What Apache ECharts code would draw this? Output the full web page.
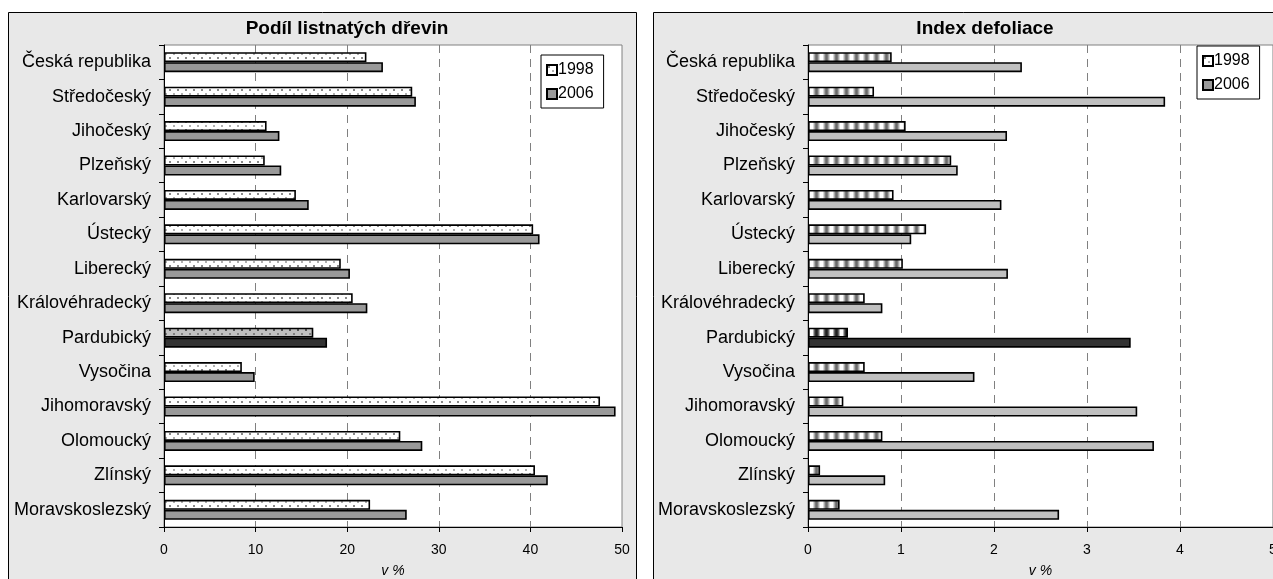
<!DOCTYPE html>
<html>
<head>
<meta charset="utf-8">
<script src="https://cdn.jsdelivr.net/npm/echarts@6/dist/echarts.min.js"></script>
<style>
html,body{margin:0;padding:0;background:#fff;}
#chart{width:1273px;height:579px;}
</style>
</head>
<body>
<div id="chart"></div>
<script>
const categories = ['Česká republika','Středočeský','Jihočeský','Plzeňský','Karlovarský','Ústecký','Liberecký','Královéhradecký','Pardubický','Vysočina','Jihomoravský','Olomoucký','Zlínský','Moravskoslezský'];
const seriesNames = ['1998','2006'];
const podil1998 = [22.1, 27.1, 11.2, 11.0, 14.4, 40.3, 19.3, 20.6, 16.3, 8.5, 47.6, 25.8, 40.5, 22.5];
const podil2006 = [23.9, 27.5, 12.6, 12.8, 15.8, 41.0, 20.3, 22.2, 17.8, 9.9, 49.3, 28.2, 41.9, 26.5];
const defol1998 = [0.90, 0.71, 1.05, 1.54, 0.92, 1.27, 1.02, 0.61, 0.43, 0.61, 0.38, 0.80, 0.13, 0.34];
const defol2006 = [2.30, 3.84, 2.14, 1.61, 2.08, 1.11, 2.15, 0.80, 3.47, 1.79, 3.54, 3.72, 0.83, 2.70];
const highlighted = 'Pardubický';

function makePattern(w, h, draw) {
  const c = document.createElement('canvas');
  c.width = w; c.height = h;
  const ctx = c.getContext('2d');
  draw(ctx);
  return { image: c, repeat: 'repeat' };
}
function dots(bg, d1, d2) {
  return makePattern(8, 8, ctx => {
    ctx.fillStyle = bg; ctx.fillRect(0, 0, 8, 8);
    ctx.fillStyle = d1; ctx.fillRect(1, 1, 2, 2);
    ctx.fillStyle = d2; ctx.fillRect(5, 5, 2, 2);
  });
}
function stripes(cols) {
  return makePattern(cols.length, 4, ctx => {
    cols.forEach((c, i) => { ctx.fillStyle = c; ctx.fillRect(i, 0, 1, 4); });
  });
}
const dotNormal = dots('#ffffff', '#8a8a8a', '#b0b0b0');
const dotHi = dots('#c0c0c0', '#555555', '#808080');
const stripeNormal = stripes(['#ffffff','#ffffff','#ffffff','#d8d8d8','#a8a8a8','#7a7a7a','#6a6a6a','#7a7a7a','#a8a8a8','#d8d8d8']);
const stripeHi = stripes(['#ffffff','#ffffff','#ffffff','#b0b0b0','#606060','#303030','#202020','#303030','#606060','#b0b0b0']);

const FONT = '"Liberation Sans", Arial, sans-serif';
const hiIdx = categories.indexOf(highlighted);

function mk(values, hiColor) {
  return values.map((v, i) => i === hiIdx ? { value: v, itemStyle: { color: hiColor } } : v);
}

const bs = { borderColor: '#000', borderWidth: 1.6 };

const chart = echarts.init(document.getElementById('chart'), null, { renderer: 'canvas' });

function yAx(gi) {
  return {
    type: 'category', gridIndex: gi, data: categories, inverse: true,
    axisLine: { show: true, lineStyle: { color: '#000', width: 1 } },
    axisTick: { show: true, length: 5, lineStyle: { color: '#000' } },
    axisLabel: { color: '#000', fontSize: 18, fontFamily: FONT, margin: 13, padding: [4, 0, 0, 0] },
    splitLine: { show: false }
  };
}
function xAx(gi, max, interval) {
  return {
    type: 'value', gridIndex: gi, min: 0, max: max, interval: interval,
    name: 'v %', nameLocation: 'middle', nameGap: 37,
    nameTextStyle: { color: '#000', fontSize: 14, fontStyle: 'italic', fontFamily: FONT },
    axisLine: { show: true, lineStyle: { color: '#000', width: 1 } },
    axisTick: { show: true, length: 5, lineStyle: { color: '#000' } },
    axisLabel: { color: '#000', fontSize: 14, fontFamily: FONT, margin: 16 },
    splitLine: { show: true, showMinLine: false, showMaxLine: false,
      lineStyle: { color: '#808080', type: [8, 6], width: 1 } }
  };
}

const legendBase = {
  orient: 'vertical', backgroundColor: '#fff', borderColor: '#000', borderWidth: 1,
  padding: [7, 10, 6, 5], itemWidth: 10, itemHeight: 10, itemGap: 8, icon: 'rect',
  textStyle: { fontSize: 16, color: '#000', fontFamily: FONT, padding: [0, 0, 0, -4] }
};

chart.setOption({
  animation: false,
  graphic: {
    elements: [
      { type: 'rect', z: -10, silent: true, shape: { x: 8.5, y: 12.5, width: 628, height: 620 },
        style: { fill: '#e8e8e8', stroke: '#000', lineWidth: 1 } },
      { type: 'rect', z: -10, silent: true, shape: { x: 653.5, y: 12.5, width: 640, height: 620 },
        style: { fill: '#e8e8e8', stroke: '#000', lineWidth: 1 } }
    ]
  },
  title: [
    { text: 'Podíl listnatých dřevin', left: 342, top: 14, textAlign: 'center',
      textStyle: { fontSize: 19, fontWeight: 'bold', color: '#000', fontFamily: FONT } },
    { text: 'Index defoliace', left: 980, top: 14, textAlign: 'center',
      textStyle: { fontSize: 19, fontWeight: 'bold', color: '#000', fontFamily: FONT } }
  ],
  legend: [
    Object.assign({ seriesIndex: [0, 1], data: seriesNames, left: 541, top: 55 }, legendBase),
    Object.assign({ seriesIndex: [2, 3], data: seriesNames, left: 1197, top: 46 }, legendBase)
  ],
  grid: [
    { left: 164, top: 45, width: 458, height: 482, show: true, backgroundColor: '#fff', borderColor: '#808080', borderWidth: 1, outerBoundsMode: 'none', containLabel: false },
    { left: 808, top: 45, width: 465, height: 482, show: true, backgroundColor: '#fff', borderColor: '#808080', borderWidth: 1, outerBoundsMode: 'none', containLabel: false }
  ],
  xAxis: [xAx(0, 50, 10), xAx(1, 5, 1)],
  yAxis: [yAx(0), yAx(1)],
  series: [
    { name: '1998', type: 'bar', xAxisIndex: 0, yAxisIndex: 0, barWidth: 10, barGap: '0%',
      itemStyle: Object.assign({ color: dotNormal }, bs), data: mk(podil1998, dotHi) },
    { name: '2006', type: 'bar', xAxisIndex: 0, yAxisIndex: 0, barWidth: 10, barGap: '0%',
      itemStyle: Object.assign({ color: '#999999' }, bs), data: mk(podil2006, '#333333') },
    { name: '1998', type: 'bar', xAxisIndex: 1, yAxisIndex: 1, barWidth: 10, barGap: '0%',
      itemStyle: Object.assign({ color: stripeNormal }, bs), data: mk(defol1998, stripeHi) },
    { name: '2006', type: 'bar', xAxisIndex: 1, yAxisIndex: 1, barWidth: 10, barGap: '0%',
      itemStyle: Object.assign({ color: '#c0c0c0' }, bs), data: mk(defol2006, '#333333') }
  ]
});
</script>
</body>
</html>
